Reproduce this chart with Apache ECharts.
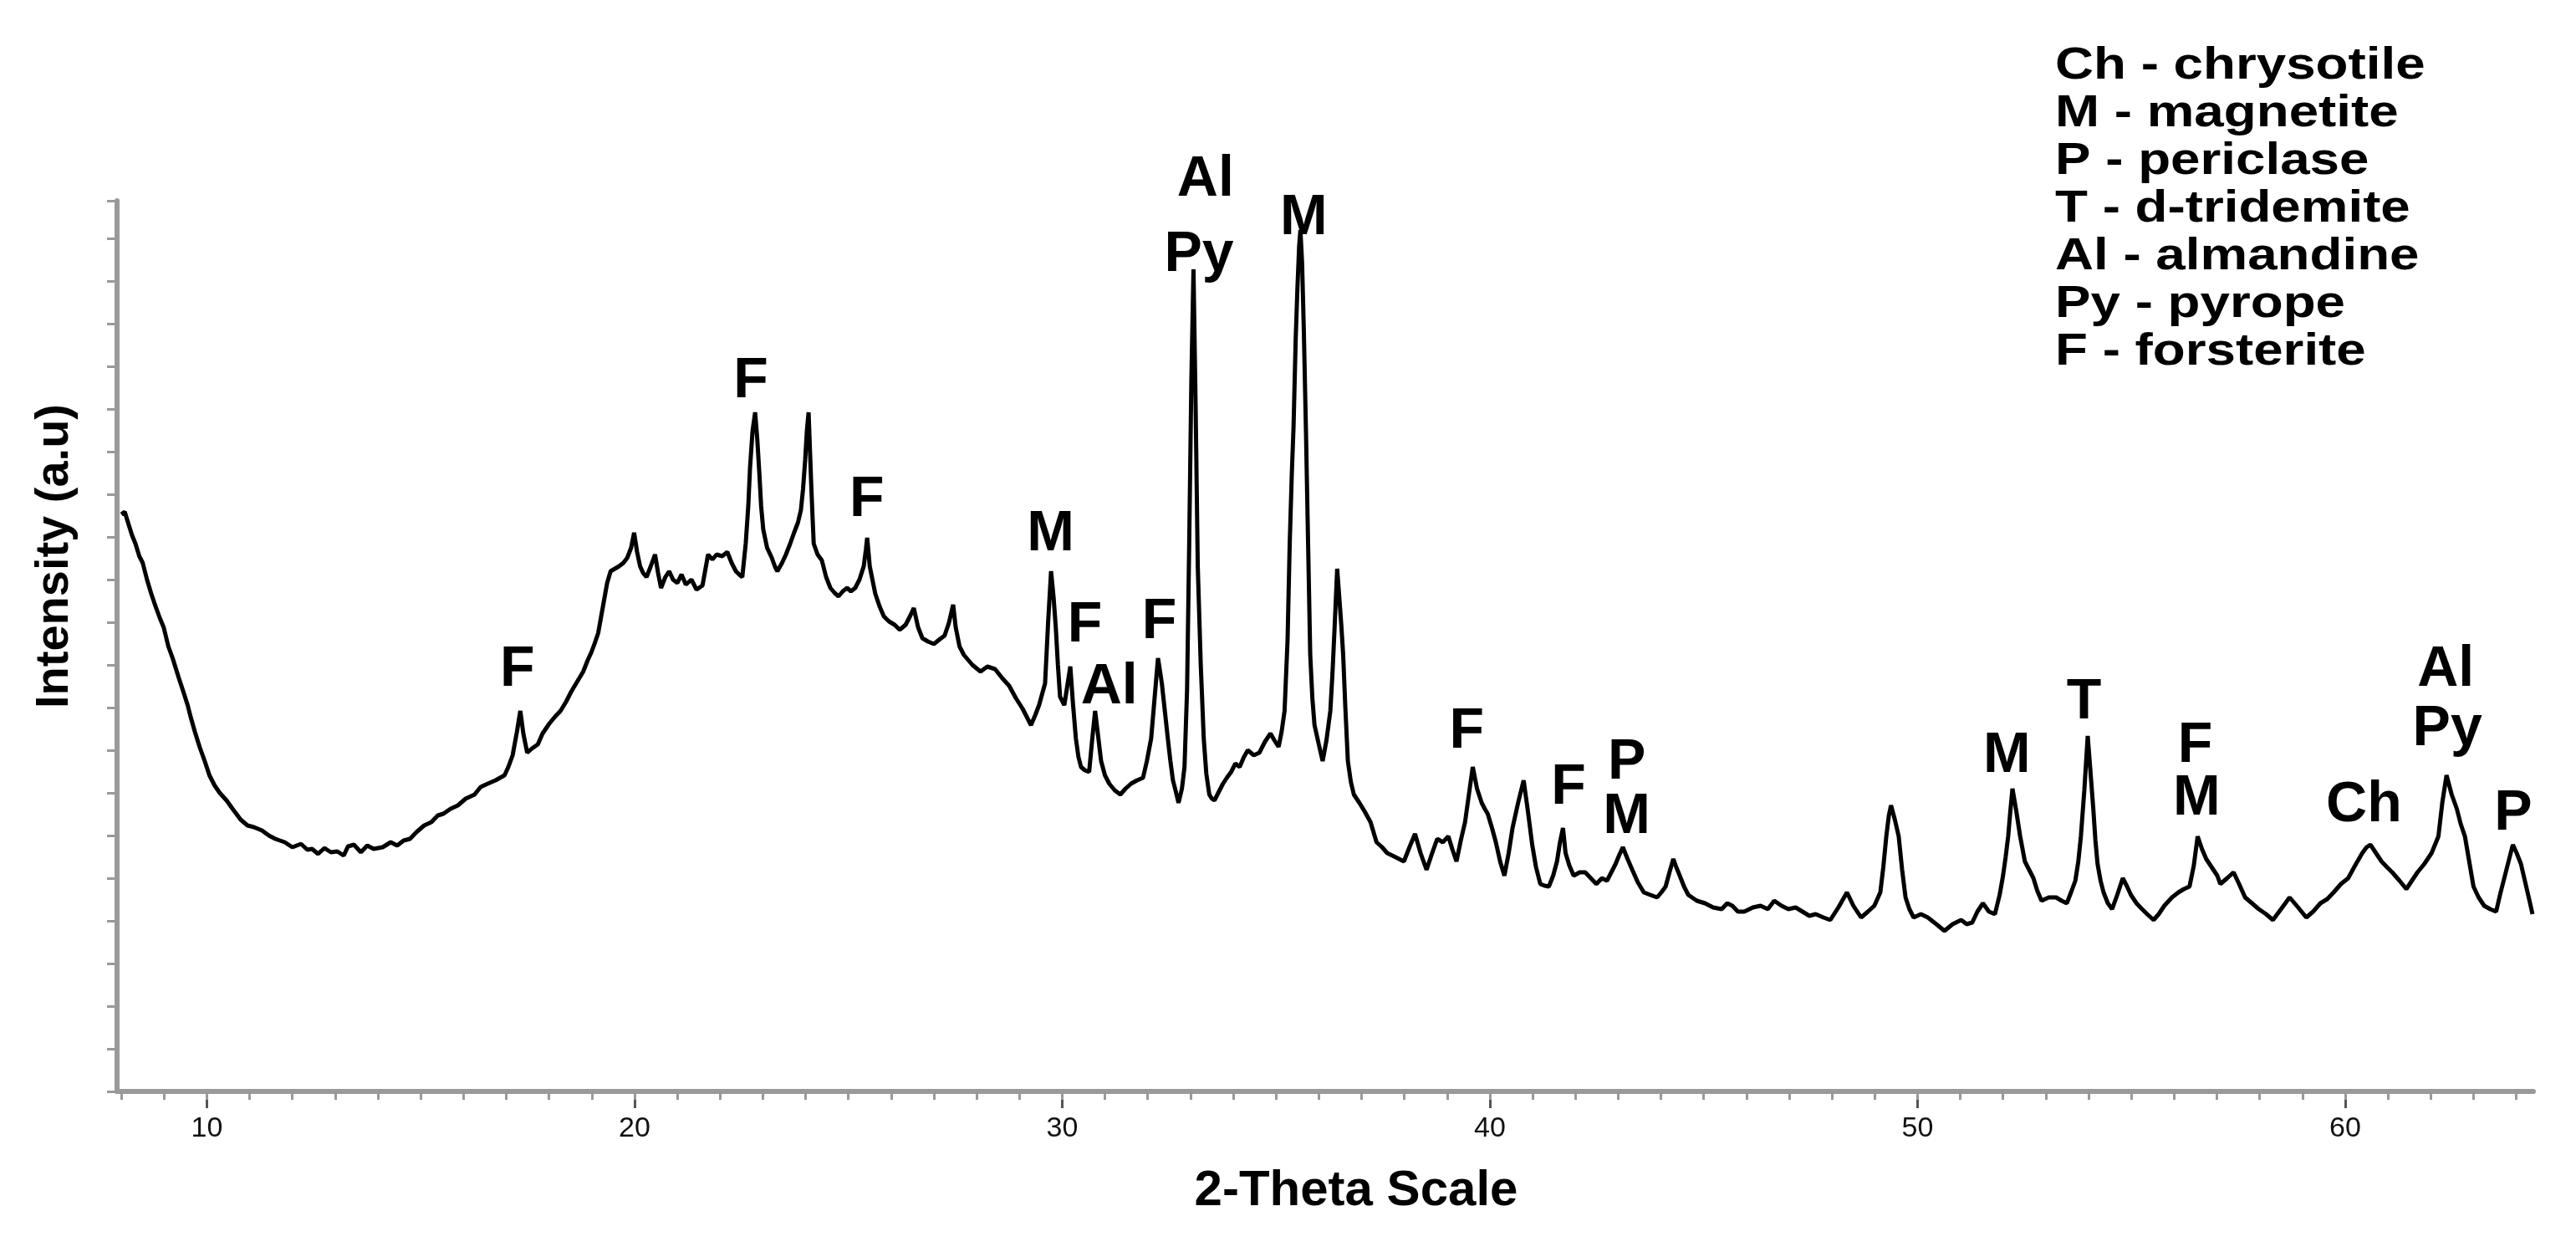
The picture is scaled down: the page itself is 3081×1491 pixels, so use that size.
<!DOCTYPE html>
<html><head><meta charset="utf-8">
<script src="https://cdn.jsdelivr.net/npm/echarts@6/dist/echarts.min.js"></script>
<style>html,body{margin:0;padding:0;background:#fff}#c{width:3081px;height:1491px}</style>
</head><body><div id="c"></div>
<script>
const twoTheta = [
8.00,8.08,8.17,8.25,8.33,8.42,8.50,8.60,8.70,8.80,8.90,8.99,9.10,9.20,9.34,9.45,9.55,9.62,9.72,9.83,9.95,
10.06,10.18,10.30,10.46,10.60,10.79,10.95,11.10,11.29,11.45,11.60,11.82,12.00,12.20,12.35,12.46,12.60,12.75,12.90,
13.05,13.20,13.30,13.44,13.60,13.75,13.90,14.11,14.30,14.45,14.60,14.75,14.90,15.08,15.25,15.40,15.53,15.70,15.87,
16.05,16.26,16.40,16.57,16.75,16.96,17.05,17.15,17.25,17.33,17.40,17.49,17.60,17.74,17.85,18.01,18.14,18.27,18.40,
18.52,18.66,18.80,18.90,18.99,19.07,19.15,19.22,19.29,19.36,19.44,19.54,19.64,19.74,19.83,19.92,19.99,20.06,20.13,
20.20,20.28,20.38,20.48,20.55,20.62,20.72,20.81,20.90,21.00,21.10,21.20,21.33,21.45,21.59,21.66,21.72,21.82,21.92,
22.05,22.17,22.27,22.37,22.45,22.52,22.60,22.66,22.70,22.76,22.82,22.87,22.92,22.96,23.01,23.10,23.21,23.28,23.34,
23.45,23.54,23.64,23.73,23.82,23.89,23.94,23.99,24.03,24.07,24.10,24.13,24.16,24.19,24.28,24.38,24.48,24.58,24.68,
24.77,24.87,24.97,25.06,25.16,25.26,25.36,25.41,25.44,25.47,25.50,25.57,25.63,25.73,25.83,25.95,26.08,26.20,26.34,
26.44,26.53,26.63,26.73,26.86,27.00,27.12,27.25,27.35,27.45,27.51,27.60,27.70,27.90,28.09,28.25,28.43,28.60,28.76,
28.92,29.07,29.17,29.27,29.37,29.46,29.53,29.60,29.67,29.74,29.80,29.85,29.90,29.95,30.05,30.12,30.19,30.25,30.32,
30.38,30.44,30.53,30.63,30.70,30.77,30.84,30.91,31.00,31.10,31.23,31.36,31.48,31.61,31.75,31.89,31.98,32.08,32.16,
32.24,32.28,32.33,32.40,32.47,32.53,32.59,32.66,32.72,32.80,32.86,32.92,32.97,33.02,33.07,33.12,33.17,33.24,33.31,
33.37,33.44,33.50,33.56,33.66,33.76,33.85,33.95,34.05,34.15,34.25,34.34,34.48,34.61,34.74,34.87,34.96,35.06,35.13,
35.20,35.27,35.32,35.37,35.41,35.46,35.50,35.54,35.57,35.61,35.65,35.70,35.75,35.80,35.85,35.90,36.00,36.09,36.18,
36.27,36.32,36.37,36.43,36.48,36.53,36.57,36.62,36.68,36.75,36.82,36.95,37.07,37.21,37.35,37.48,37.60,37.80,37.99,
38.12,38.25,38.38,38.52,38.65,38.77,38.90,39.03,39.12,39.22,39.32,39.42,39.51,39.60,39.70,39.81,39.88,39.95,40.05,
40.14,40.24,40.34,40.44,40.53,40.66,40.79,40.89,40.99,41.08,41.18,41.28,41.38,41.48,41.57,41.64,41.71,41.77,41.86,
41.96,42.10,42.23,42.36,42.49,42.62,42.74,42.84,42.94,43.02,43.11,43.22,43.33,43.46,43.60,43.75,43.91,44.01,44.11,
44.20,44.29,44.36,44.44,44.54,44.64,44.84,45.03,45.22,45.42,45.55,45.67,45.80,45.95,46.15,46.33,46.50,46.65,46.82,
46.98,47.15,47.31,47.47,47.62,47.80,47.96,48.15,48.35,48.50,48.68,48.84,48.99,49.13,49.20,49.27,49.33,49.38,49.47,
49.56,49.64,49.72,49.81,49.91,50.08,50.24,50.44,50.63,50.82,51.02,51.15,51.28,51.40,51.53,51.67,51.81,51.92,52.00,
52.06,52.12,52.17,52.22,52.31,52.40,52.51,52.61,52.71,52.80,52.90,53.07,53.24,53.37,53.49,53.59,53.69,53.76,53.82,
53.90,53.98,54.04,54.11,54.16,54.21,54.28,54.35,54.45,54.55,54.67,54.80,54.90,54.99,55.12,55.25,55.37,55.52,55.64,
55.77,55.95,56.10,56.23,56.36,56.46,56.55,56.65,56.75,56.88,57.01,57.08,57.24,57.39,57.52,57.66,57.82,57.98,58.15,
58.31,58.50,58.70,58.90,59.09,59.25,59.42,59.58,59.73,59.90,60.07,60.23,60.40,60.50,60.59,60.72,60.85,60.98,61.10,
61.27,61.43,61.56,61.69,61.85,62.02,62.10,62.18,62.27,62.37,62.49,62.61,62.70,62.80,62.90,63.00,63.12,63.25,63.39,
63.53,63.62,63.72,63.82,63.92,64.01,64.11,64.21,64.31,64.38
];
const intensity = [
690,693,678,665,655,640,632,612,595,580,566,555,532,518,495,478,462,448,430,412,395,
378,366,357,348,338,325,318,316,312,306,302,298,292,296,289,290,284,291,286,
287,282,293,295,286,294,290,292,298,294,300,302,310,318,322,330,332,338,342,
350,355,364,368,372,378,388,402,430,455,428,405,410,415,428,440,448,455,466,
478,490,502,515,525,536,548,568,588,608,622,625,628,632,638,650,668,645,628,
620,615,628,642,620,602,615,622,612,608,618,606,612,600,605,625,642,636,642,
640,645,632,622,618,615,655,700,745,790,812,780,738,700,672,650,638,628,622,
632,642,655,668,680,695,720,755,790,812,770,728,690,655,642,635,615,602,596,
592,598,602,598,602,612,628,648,662,645,628,610,595,580,568,562,558,552,558,
568,578,555,542,538,535,540,545,560,582,555,532,522,510,502,508,505,494,485,
470,458,448,438,450,462,475,488,560,622,590,555,510,472,462,485,508,465,422,
400,388,384,382,420,455,425,395,378,368,360,355,362,368,372,375,395,422,470,
518,505,488,455,422,395,372,358,345,362,388,480,655,850,983,820,628,510,422,
380,355,350,348,358,368,375,382,392,388,400,408,402,405,418,428,420,412,430,
455,540,655,740,795,900,960,1010,1030,990,910,790,655,522,470,438,415,395,420,
455,500,555,625,590,555,522,460,395,370,355,345,335,322,298,292,285,280,275,
292,308,285,265,285,302,298,305,290,275,300,322,355,388,362,345,338,332,315,
298,275,258,285,315,345,372,335,295,268,248,246,245,258,275,298,315,285,270,
258,262,262,255,248,255,252,262,272,282,292,278,265,250,238,235,232,238,245,
262,278,268,258,245,235,228,225,220,218,225,222,215,215,220,222,218,228,222,
218,220,215,210,212,208,205,220,238,222,208,215,222,238,268,305,330,342,325,
305,265,232,218,208,212,208,200,192,200,205,200,202,215,225,215,212,235,258,
280,305,335,362,335,305,275,265,255,240,228,232,232,228,225,238,252,275,305,
360,425,385,338,300,272,252,238,225,218,235,255,245,235,225,218,212,205,212,
222,232,238,242,245,270,305,290,278,268,258,248,255,262,248,232,225,218,212,
205,218,232,220,208,215,225,230,238,248,255,270,285,292,295,285,275,268,262,
252,242,252,262,272,285,295,305,345,378,355,338,320,305,275,245,232,222,218,
215,235,255,275,295,285,272,250,228,212
];
const xMajorTicks = [10, 20, 30, 40, 50, 60];
const xMinorTicks = [8,9,10,11,12,13,14,15,16,17,18,19,20,21,22,23,24,25,26,27,28,29,30,31,32,33,34,35,36,37,38,39,40,41,42,43,44,45,46,47,48,49,50,51,52,53,54,55,56,57,58,59,60,61,62,63,64];
const peakLabelText = ['F','F','F','M','F','Al','F','Al','Py','M','F','F','P','M','M','T','F','M','Ch','Al','Py','P'];
const peakLabelX = [17.26,22.72,25.43,29.73,30.53,31.10,32.27,33.35,33.20,35.65,39.46,41.84,43.20,43.20,52.09,53.89,56.49,56.53,60.44,62.35,62.39,63.93];
const peakLabelY = [504,849,707,666,557,483,561,1090,1000,1044,430,363,393,328,401,465,413,350,342,504,433,332];
const legendLines = ['Ch - chrysotile','M - magnetite','P - periclase','T - d-tridemite','Al - almandine','Py - pyrope','F - forsterite'];
const xAxisTitle = '2-Theta Scale';
const yAxisTitle = 'Intensity (a.u)';

const chart = echarts.init(document.getElementById('c'), null, {renderer: 'canvas'});
const seriesData = twoTheta.map((x, i) => [x, intensity[i]]);
const labelData = peakLabelText.map((t, i) => ({name: t, value: [peakLabelX[i], peakLabelY[i]]}));
const FONT = '"Liberation Sans", Arial, sans-serif';

const legendGraphics = legendLines.map((t, i) => ({
  type: 'text', x: 2458, y: 79 + i * 57, scaleX: 1.18,
  style: {text: t, font: 'bold 54px ' + FONT, fill: '#000', align: 'left', verticalAlign: 'middle', textAlign: 'left', textVerticalAlign: 'middle'}
}));

chart.setOption({
  animation: false,
  backgroundColor: '#fff',
  grid: {left: 140, right: 51, top: 240, bottom: 186, containLabel: false},
  xAxis: [{
    type: 'value', min: 7.9, max: 64.4, position: 'bottom',
    axisLine: {show: true, lineStyle: {color: '#9a9a9a', width: 6}},
    axisTick: {show: true, customValues: xMajorTicks, length: 20, lineStyle: {color: '#555', width: 3}},
    axisLabel: {show: true, customValues: xMajorTicks, margin: 28, fontSize: 34, color: '#111', fontFamily: FONT},
    splitLine: {show: false}
  }, {
    type: 'value', min: 7.9, max: 64.4, position: 'bottom',
    axisLine: {show: false},
    axisTick: {show: true, customValues: xMinorTicks, length: 10, lineStyle: {color: '#999', width: 3}},
    axisLabel: {show: false},
    splitLine: {show: false}
  }],
  yAxis: {
    type: 'value', min: 0, max: 1065, interval: 51,
    axisLine: {show: true, lineStyle: {color: '#9a9a9a', width: 6}},
    axisTick: {show: true, length: 12, lineStyle: {color: '#999', width: 3}},
    axisLabel: {show: false},
    splitLine: {show: false}
  },
  series: [{
    type: 'line', data: seriesData, symbol: 'none', showSymbol: false,
    lineStyle: {color: '#000', width: 5}, z: 3
  }, {
    type: 'scatter', data: labelData, symbolSize: 0, clip: false, silent: true,
    itemStyle: {opacity: 1},
    label: {show: true, position: 'inside', formatter: p => p.name, fontSize: 68, fontWeight: 'bold', color: '#000', opacity: 1, fontFamily: FONT},
    z: 4
  }],
  graphic: [
    {type: 'text', x: 1622, y: 1424, style: {text: xAxisTitle, font: 'bold 60px ' + FONT, fill: '#000', align: 'center', verticalAlign: 'middle', textAlign: 'center', textVerticalAlign: 'middle'}},
    {type: 'text', x: 66, y: 665, rotation: Math.PI / 2, style: {text: yAxisTitle, font: 'bold 56px ' + FONT, fill: '#000', align: 'center', verticalAlign: 'middle', textAlign: 'center', textVerticalAlign: 'middle'}}
  ].concat(legendGraphics)
});
</script></body></html>
